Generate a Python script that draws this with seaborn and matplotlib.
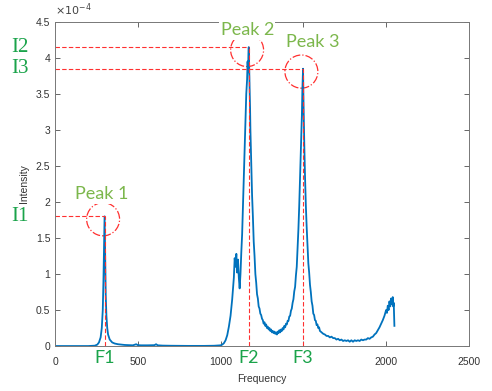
import seaborn as sns
import numpy as np
import pandas as pd
import matplotlib.pyplot as plt
from matplotlib.patches import Ellipse
from matplotlib.ticker import FuncFormatter

#spectrum (intensity in units of 1e-4)
freq = [0, 100, 200, 240, 255, 265, 275, 282, 288, 292, 296, 299, 301, 303, 306, 310, 315, 320,
        330, 345, 360, 380, 420, 470, 490, 500, 520, 560, 600, 610, 620, 650, 700, 800, 900, 960, 990,
        1000, 1010, 1020, 1030, 1040, 1050, 1060, 1070, 1080, 1085, 1090, 1095, 1100, 1105, 1110, 1115,
        1120, 1125, 1130, 1135, 1140, 1145, 1150, 1155, 1160, 1163, 1166, 1168, 1170, 1172, 1175, 1178,
        1180, 1185, 1190, 1195, 1200, 1205, 1210, 1215, 1220, 1225, 1230, 1235, 1240, 1245, 1250, 1255,
        1260, 1265, 1270, 1275, 1280, 1285, 1290, 1295, 1300, 1305, 1310, 1315, 1320, 1325, 1330, 1335,
        1340, 1345, 1350, 1355, 1360, 1365, 1370, 1375, 1380, 1385, 1390, 1395, 1400, 1405, 1410, 1415,
        1420, 1425, 1430, 1435, 1440, 1445, 1450, 1455, 1460, 1465, 1470, 1475, 1480, 1485, 1488, 1491,
        1494, 1496, 1498, 1500, 1503, 1506, 1510, 1515, 1520, 1525, 1530, 1535, 1540, 1545, 1550, 1555,
        1560, 1565, 1570, 1575, 1580, 1585, 1590, 1595, 1600, 1610, 1620, 1630, 1640, 1650, 1660, 1670,
        1680, 1690, 1700, 1710, 1720, 1730, 1740, 1750, 1760, 1770, 1780, 1790, 1800, 1810, 1820, 1830,
        1840, 1850, 1860, 1870, 1880, 1890, 1900, 1910, 1920, 1930, 1940, 1950, 1960, 1970, 1980, 1990,
        2000, 2005, 2010, 2015, 2020, 2025, 2030, 2035, 2040, 2043, 2046, 2050]
intensity = [0, 0, 0, 0.005, 0.02, 0.05, 0.12, 0.25, 0.5, 0.9, 1.4, 1.8, 1.5, 1.1, 0.7, 0.42, 0.25, 0.16,
             0.09, 0.05, 0.035, 0.025, 0.015, 0.01, 0.025, 0.012, 0.01, 0.01, 0.012, 0.025, 0.01, 0.006, 0.004, 0.002, 0.002, 0.004, 0.008,
             0.01, 0.02, 0.04, 0.08, 0.15, 0.27, 0.42, 0.65, 0.95, 1.22, 1.1, 1.28, 1.02, 1.2, 0.95, 0.8,
             1.0, 1.3, 1.55, 1.95, 2.3, 2.75, 3.1, 3.5, 3.7, 3.95, 3.8, 4.05, 4.15, 3.9, 3.6, 3.3,
             3.0, 2.55, 2.1, 1.8, 1.45, 1.25, 1.0, 0.88, 0.72, 0.66, 0.55, 0.52, 0.45, 0.43, 0.38, 0.36,
             0.31, 0.33, 0.28, 0.3, 0.25, 0.27, 0.23, 0.25, 0.21, 0.23, 0.19, 0.21, 0.18, 0.2, 0.17, 0.19,
             0.16, 0.2, 0.18, 0.22, 0.19, 0.23, 0.21, 0.25, 0.23, 0.28, 0.26, 0.31, 0.3, 0.35, 0.35, 0.41,
             0.42, 0.49, 0.52, 0.6, 0.65, 0.76, 0.82, 0.98, 1.1, 1.35, 1.62, 1.95, 2.35, 2.7, 2.95, 3.2,
             3.55, 3.7, 3.85, 3.5, 3.1, 2.75, 2.35, 1.95, 1.65, 1.4, 1.15, 1.02, 0.85, 0.75, 0.62, 0.56,
             0.45, 0.43, 0.36, 0.35, 0.29, 0.3, 0.25, 0.26, 0.21, 0.19, 0.17, 0.16, 0.14, 0.14, 0.12, 0.13,
             0.11, 0.11, 0.09, 0.1, 0.08, 0.09, 0.07, 0.08, 0.07, 0.08, 0.06, 0.08, 0.06, 0.08, 0.07, 0.08,
             0.07, 0.09, 0.08, 0.09, 0.09, 0.11, 0.1, 0.12, 0.13, 0.16, 0.18, 0.22, 0.26, 0.31, 0.36, 0.42,
             0.5, 0.46, 0.56, 0.5, 0.62, 0.55, 0.66, 0.58, 0.68, 0.55, 0.6, 0.28]

#peaks marked on the chart
peak_names = ['Peak 1', 'Peak 2', 'Peak 3']
peak_freq = [300, 1170, 1498]
peak_int = [1.8, 4.15, 3.85]
i_labels = ['I1', 'I2', 'I3']
f_labels = ['F1', 'F2', 'F3']

x_ticks = [0, 500, 1000, 1500, 2000, 2500]
y_ticks = [0, 0.5, 1, 1.5, 2, 2.5, 3, 3.5, 4, 4.5]

#label offsets (points) of the peak names
name_offsets = [(-2, 16), (-1, 12), (7, 19)]

df = pd.DataFrame({'Frequency': freq, 'Intensity': intensity})

fig = plt.figure(figsize=(4.92, 3.91), dpi=100)
ax = fig.add_axes([0.112, 0.115, 0.841, 0.829])

#the spectrum
sns.lineplot(x='Frequency', y='Intensity', data=df, ax=ax, color='#0072BD',
             linewidth=1.3, estimator=None, sort=False)

ax.set_xlim(0, 2500)
ax.set_ylim(0, 4.5)
ax.set_xticks(x_ticks)
ax.set_yticks(y_ticks)
ax.yaxis.set_major_formatter(FuncFormatter(lambda v, p: '%g' % v))
ax.tick_params(direction='in', top=True, right=True, length=3.5, width=0.6,
               color='#4d4d4d', labelcolor='#333333', labelsize=7.5)
ax.tick_params(axis='x', pad=8)
for lab in ax.get_xticklabels() + ax.get_yticklabels():
    lab.set_family('Liberation Sans')
for s in ax.spines.values():
    s.set_color('#777777')
    s.set_linewidth(0.7)

ax.set_xlabel('Frequency', family='Liberation Sans', fontsize=7.5, color='#333333', labelpad=5)
ax.set_ylabel('Intensity', family='Liberation Sans', fontsize=7.5, color='#333333', labelpad=5)
ax.text(0.0, 1.012, r'$\times10^{-4}$', transform=ax.transAxes, fontsize=8,
        color='#444444', ha='left', va='bottom')

#white boxes behind the added labels, as in the original (they hide what lies under them)
box = dict(facecolor='white', edgecolor='none', pad=1)

#dashed guides, circles and labels
for name, f, i, il, fl, off in zip(peak_names, peak_freq, peak_int, i_labels, f_labels, name_offsets):
    ax.plot([0, f], [i, i], color='#ff3030', lw=0.8, ls=(0, (4, 2)))
    ax.plot([f, f], [0, i], color='#ff3030', lw=0.8, ls=(0, (4, 2)))
    ax.add_patch(Ellipse((f - 10, i - 0.04), 199, 0.46, fill=False, edgecolor='#ff3030',
                         lw=0.9, ls='-.'))
    ax.annotate(name, (f, i), xytext=off, textcoords='offset points', annotation_clip=False,
                ha='center', va='center', fontsize=13, family='Lato', color='#7cb74c',
                bbox=box, zorder=5)
    ax.annotate(il, (0, i), xytext=(-25, 0), textcoords='offset points', ha='center', va='center',
                fontsize=15, family='Liberation Serif', color='#1aa34a', annotation_clip=False)
    ax.annotate(fl, (f, 0), xytext=(0, -3), textcoords='offset points', ha='center', va='top',
                fontsize=13, family='Lato', color='#1aa34a', bbox=box, zorder=5,
                annotation_clip=False)

plt.savefig('out.png', dpi=100)
